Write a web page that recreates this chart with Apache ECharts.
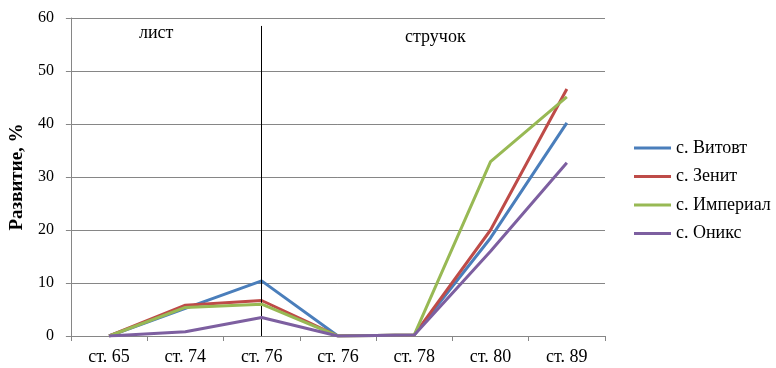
<!DOCTYPE html>
<html>
<head>
<meta charset="utf-8">
<style>
  html, body { margin: 0; padding: 0; background: #fff; }
  #chart { width: 776px; height: 368px; }
</style>
<script src="https://cdn.jsdelivr.net/npm/echarts@6/dist/echarts.min.js"></script>
</head>
<body>
<div id="chart"></div>
<script>
// Stages of development (two stages share the label "ст. 76")
const stages = ['ст. 65', 'ст. 74', 'ст. 76', 'ст. 76', 'ст. 78', 'ст. 80', 'ст. 89'];

// Development, % per variety
const vitovt   = [0, 5.2, 10.4, 0, 0.2, 18.5, 40.2];
const zenit    = [0, 5.8, 6.7,  0, 0.2, 20.0, 46.6];
const imperial = [0, 5.4, 6.0,  0, 0.2, 32.9, 45.1];
const oniks    = [0, 0.8, 3.5,  0, 0.2, 16.0, 32.7];

const seriesNames  = ['с. Витовт', 'с. Зенит', 'с. Империал', 'с. Оникс'];
const seriesValues = [vitovt, zenit, imperial, oniks];
const seriesColors = ['#4a7ebb', '#be4b48', '#98b954', '#7d5fa0'];

// Divider between the leaf and pod phases
const dividerStage = 2;
const dividerTop = 58.5;

const font = '"Liberation Serif", "Times New Roman", serif';

const series = seriesNames.map((name, i) => {
  const s = {
    name: name,
    type: 'line',
    data: seriesValues[i],
    symbol: 'none',
    lineStyle: { width: 3, color: seriesColors[i] },
    itemStyle: { color: seriesColors[i] },
    z: 3 + i
  };
  if (i === 0) {
    s.markLine = {
      silent: true,
      symbol: ['none', 'none'],
      label: { show: false },
      lineStyle: { color: '#000', width: 1, type: 'solid' },
      data: [[{ coord: [dividerStage, 0] }, { coord: [dividerStage, dividerTop] }]],
      animation: false
    };
  }
  return s;
});

const chart = echarts.init(document.getElementById('chart'), null, { renderer: 'canvas' });
chart.setOption({
  animation: false,
  backgroundColor: '#fff',
  textStyle: { fontFamily: font },
  grid: { left: 65, right: 171, top: 18, bottom: 32, containLabel: false },
  xAxis: {
    type: 'category',
    data: stages,
    boundaryGap: true,
    axisLine: { lineStyle: { color: '#868686', width: 1 } },
    axisTick: { show: true, length: 5, lineStyle: { color: '#868686' } },
    axisLabel: { color: '#000', fontSize: 18, fontFamily: font, margin: 12 },
    splitLine: { show: false }
  },
  yAxis: {
    type: 'value',
    min: 0,
    max: 60,
    interval: 10,
    name: 'Развитие, %',
    nameLocation: 'middle',
    nameGap: 42,
    nameTextStyle: { color: '#000', fontSize: 19, fontWeight: 'bold', fontFamily: font },
    axisLine: { show: true, lineStyle: { color: '#868686', width: 1 } },
    axisTick: { show: true, length: 5, lineStyle: { color: '#868686' } },
    axisLabel: { color: '#000', fontSize: 16, fontFamily: font, margin: 17 },
    splitLine: { show: true, lineStyle: { color: '#868686', width: 1 } }
  },
  legend: {
    orient: 'vertical',
    left: 629,
    top: 133,
    icon: 'rect',
    itemWidth: 37,
    itemHeight: 3,
    itemGap: 8.5,
    textStyle: { color: '#000', fontSize: 18, fontFamily: font, lineHeight: 20 },
    data: seriesNames
  },
  graphic: [
    { type: 'text', left: 139, top: 24, style: { text: 'лист', fontSize: 18, fontFamily: font, fill: '#000' } },
    { type: 'text', left: 405, top: 28, style: { text: 'стручок', fontSize: 18, fontFamily: font, fill: '#000' } }
  ],
  series: series
});
</script>
</body>
</html>
